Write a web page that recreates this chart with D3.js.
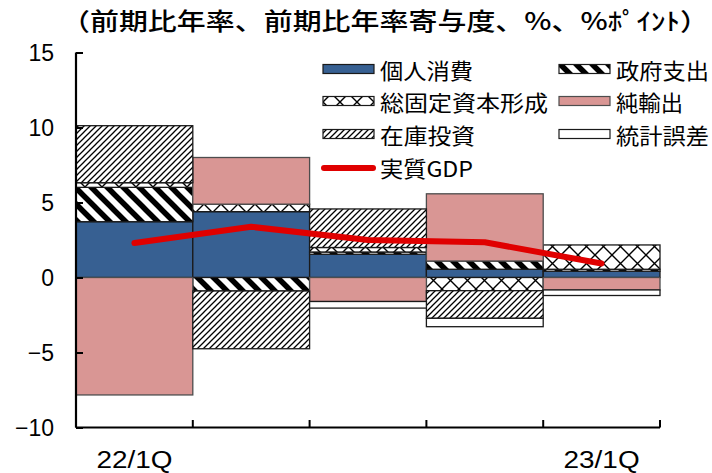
<!DOCTYPE html>
<html><head><meta charset="utf-8">
<script src="https://cdn.jsdelivr.net/npm/d3@7"></script>
<style>body{margin:0;background:#fff}svg{display:block}</style>
</head><body>
<svg id="c" width="712" height="473"></svg>
<script>
const categories = ["22/1Q","22/2Q","22/3Q","22/4Q","23/1Q"];
const xTickLabels = ["22/1Q","","","","23/1Q"];
const consumption = [3.72, 4.39, 1.55, 0.55, 0.42];
const government = [2.29, -0.90, 0.15, 0.55, 0.13];
const gfcf = [0.31, 0.50, 0.30, -0.88, 1.62];
const netExports = [-7.83, 3.11, -1.60, 4.48, -0.83];
const inventory = [3.80, -3.85, 2.57, -1.84, 0];
const statDiscrepancy = [0, 0, -0.44, -0.56, -0.37];
const gdp = [2.3, 3.38, 2.5, 2.35, 0.93];
const yTicks = [-10, -5, 0, 5, 10, 15];
const seriesNames = ["個人消費","政府支出","総固定資本形成","純輸出","在庫投資","統計誤差"];
const lineName = "実質GDP";
const title = "（前期比年率、前期比年率寄与度、%、%ﾎﾟｲﾝﾄ）";

const svg = d3.select("#c");
const defs = svg.append("defs");

// patterns
const pGov = defs.append("pattern").attr("id","pGov").attr("patternUnits","userSpaceOnUse")
  .attr("width",16).attr("height",16);
pGov.append("rect").attr("width",16).attr("height",16).attr("fill","#fff");
pGov.append("path").attr("d","M-4,-4 L20,20 M-4,12 L4,20 M12,-4 L20,4").attr("stroke","#000").attr("stroke-width",5.5);

const pInv = defs.append("pattern").attr("id","pInv").attr("patternUnits","userSpaceOnUse")
  .attr("width",6).attr("height",6);
pInv.append("rect").attr("width",6).attr("height",6).attr("fill","#fff");
pInv.append("path").attr("d","M-1,7 L7,-1 M-1,1 L1,-1 M5,7 L7,5").attr("stroke","#000").attr("stroke-width",1.3);

const pFix = defs.append("pattern").attr("id","pFix").attr("patternUnits","userSpaceOnUse")
  .attr("width",17).attr("height",17);
pFix.append("rect").attr("width",17).attr("height",17).attr("fill","#fff");
pFix.append("path").attr("d","M0,0 L17,17 M0,17 L17,0").attr("stroke","#000").attr("stroke-width",1.4);

const fills = ["#376092","url(#pGov)","url(#pFix)","#D99694","url(#pInv)","#ffffff"];
const strokes = ["#1a1a1a","#1a1a1a","#1a1a1a","#4d4d4d","#1a1a1a","#1a1a1a"];

const x = d3.scaleBand().domain(categories).range([76, 660]).padding(0);
const y = d3.scaleLinear().domain([-10, 15]).range([427.5, 52.5]);

const table = categories.map((c,i)=>({cat:c, s0:consumption[i], s1:government[i], s2:gfcf[i], s3:netExports[i], s4:inventory[i], s5:statDiscrepancy[i]}));
const keys = ["s0","s1","s2","s3","s4","s5"];
const stacked = d3.stack().keys(keys).offset(d3.stackOffsetDiverging)(table);

const g = svg.append("g");
stacked.forEach((layer, li) => {
  g.selectAll(null).data(layer.filter(d => Math.abs(d[1]-d[0])>1e-9)).enter().append("rect")
    .attr("x", d => x(d.data.cat))
    .attr("width", x.bandwidth())
    .attr("y", d => y(Math.max(d[0],d[1])))
    .attr("height", d => Math.abs(y(d[0])-y(d[1])))
    .attr("fill", fills[li])
    .attr("stroke", strokes[li])
    .attr("stroke-width", 1.3);
});

// GDP line
const line = d3.line().x((d,i)=>x(categories[i])+x.bandwidth()/2).y(d=>y(d));
svg.append("path").datum(gdp).attr("d", line).attr("fill","none")
  .attr("stroke","#E00000").attr("stroke-width",6).attr("stroke-linejoin","round").attr("stroke-linecap","round");

// axes
const yAxis = d3.axisRight(y).tickValues(yTicks).tickSize(7).tickFormat("");
const ya = svg.append("g").attr("transform","translate(76,0)").call(yAxis);
ya.select(".domain").attr("d","M0,52.5V427.5").attr("stroke","#000").attr("stroke-width",2.2);
ya.selectAll(".tick line").attr("stroke","#000").attr("stroke-width",2);
svg.append("g").selectAll("text").data(yTicks).enter().append("text")
  .attr("x",54).attr("y",d=>y(d)).attr("dy","0.36em").attr("text-anchor","end")
  .attr("font-family","Liberation Sans, Arial, sans-serif").attr("font-size",23).attr("fill","#000")
  .text(d => d<0 ? "\u2212"+Math.abs(d) : d);

const xEdges = d3.range(categories.length+1).map(i => 76 + i*x.step());
const xa = svg.append("g");
xa.append("line").attr("x1",76).attr("x2",660).attr("y1",427.5).attr("y2",427.5).attr("stroke","#000").attr("stroke-width",2.2);
xa.selectAll("line.t").data(xEdges).enter().append("line").attr("class","t")
  .attr("x1",d=>d).attr("x2",d=>d).attr("y1",427.5).attr("y2",420).attr("stroke","#000").attr("stroke-width",2);
xa.selectAll("text").data(categories).enter().append("text")
  .attr("x", d => x(d)+x.bandwidth()/2).attr("y", 468)
  .attr("text-anchor","middle").attr("font-family","Liberation Sans, Arial, sans-serif").attr("font-size",23)
  .attr("textLength", (d,i)=> xTickLabels[i] ? 76 : null).attr("lengthAdjust","spacingAndGlyphs")
  .text((d,i)=>xTickLabels[i]);

// title
svg.append("text").attr("x",61).attr("y",30).attr("font-family","Noto Sans CJK JP, sans-serif")
  .attr("font-size",24).attr("font-weight",500).attr("textLength",648).attr("lengthAdjust","spacingAndGlyphs").text(title);

// legend
const leg = svg.append("g");
const legItems = [
  {name:seriesNames[0], i:0, col:0, row:0, w:93},
  {name:seriesNames[1], i:1, col:1, row:0, w:93},
  {name:seriesNames[2], i:2, col:0, row:1, w:168},
  {name:seriesNames[3], i:3, col:1, row:1, w:67},
  {name:seriesNames[4], i:4, col:0, row:2, w:95},
  {name:seriesNames[5], i:5, col:1, row:2, w:93}
];
const colX = [323, 559];
const rowY = [69, 101, 134, 168];
legItems.forEach(it => {
  leg.append("rect").attr("x",colX[it.col]).attr("y",rowY[it.row]-4.5).attr("width",51).attr("height",9)
    .attr("fill",fills[it.i]).attr("stroke",strokes[it.i]).attr("stroke-width",1.2);
  leg.append("text").attr("x",colX[it.col]+57).attr("y",rowY[it.row]+2.5).attr("dy","0.35em")
    .attr("font-family","Noto Sans CJK JP, sans-serif").attr("font-size",21.5)
    .attr("textLength",it.w).attr("lengthAdjust","spacingAndGlyphs").text(it.name);
});
leg.append("line").attr("x1",324).attr("x2",373).attr("y1",rowY[3]).attr("y2",rowY[3])
  .attr("stroke","#E00000").attr("stroke-width",6).attr("stroke-linecap","round");
leg.append("text").attr("x",380).attr("y",rowY[3]+1).attr("dy","0.35em")
  .attr("font-family","Noto Sans CJK JP, sans-serif").attr("font-size",21.5)
  .attr("textLength",93).attr("lengthAdjust","spacingAndGlyphs").text(lineName);
</script>
</body></html>
